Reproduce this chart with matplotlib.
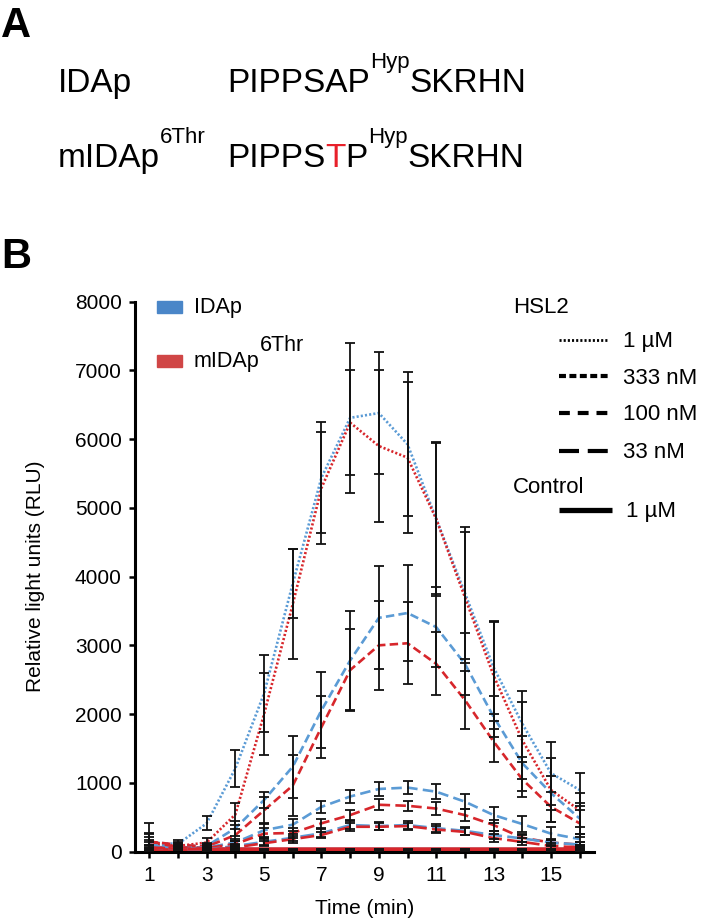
import matplotlib
matplotlib.use("Agg")
import matplotlib.pyplot as plt
from matplotlib.lines import Line2D
from matplotlib.patches import Rectangle

plt.rcParams["font.family"] = ["Liberation Sans", "DejaVu Sans"]

# ---- data ----
time_min = list(range(1, 17))
x_tick_labels = [str(t) if t % 2 else "" for t in time_min]
y_ticks = [0, 1000, 2000, 3000, 4000, 5000, 6000, 7000, 8000]

# IDAp (blue)
ida_1um = [130, 110, 410, 1210, 2300, 3900, 5440, 6310, 6380, 5925, 4840, 3760, 2680, 1860, 1140, 895]
ida_1um_sd = [280, 60, 100, 270, 560, 500, 810, 1090, 890, 1050, 1120, 960, 680, 480, 460, 240]
ida_333 = [100, 80, 80, 340, 750, 1235, 2055, 2780, 3400, 3470, 3265, 2730, 1960, 1285, 850, 480]
ida_333_sd = [70, 40, 40, 110, 120, 450, 550, 720, 750, 700, 580, 450, 300, 400, 250, 220]
ida_100 = [80, 60, 60, 130, 310, 390, 650, 800, 910, 930, 870, 725, 530, 400, 260, 180]
ida_100_sd = [60, 30, 30, 50, 100, 90, 90, 90, 100, 100, 110, 110, 120, 120, 90, 80]
ida_33 = [60, 40, 30, 80, 140, 200, 265, 385, 370, 385, 340, 300, 240, 190, 130, 100]
ida_33_sd = [40, 20, 20, 30, 50, 50, 60, 60, 60, 60, 60, 60, 60, 50, 40, 40]
ida_ctrl = [50, 40, 30, 25, 20, 20, 20, 20, 20, 20, 20, 20, 20, 20, 20, 20]
ida_ctrl_sd = [20, 10, 10, 10, 10, 10, 10, 10, 10, 10, 10, 10, 10, 10, 10, 10]

# mIDAp 6Thr (red)
mida_1um = [110, 80, 130, 540, 2000, 3600, 5290, 6240, 5900, 5730, 4840, 3700, 2560, 1620, 895, 600]
mida_1um_sd = [150, 50, 60, 160, 600, 800, 810, 760, 1100, 1100, 1100, 950, 780, 560, 460, 250]
mida_333 = [143, 100, 70, 240, 600, 960, 1810, 2640, 3000, 3030, 2730, 2205, 1600, 1050, 650, 410]
mida_333_sd = [130, 40, 40, 90, 200, 440, 450, 600, 650, 600, 460, 420, 300, 250, 220, 200]
mida_100 = [150, 60, 50, 110, 260, 270, 410, 530, 680, 665, 625, 530, 385, 200, 130, 100]
mida_100_sd = [60, 30, 30, 40, 80, 70, 70, 70, 80, 70, 100, 90, 80, 60, 50, 40]
mida_33 = [60, 40, 30, 60, 120, 180, 240, 360, 360, 370, 320, 285, 195, 140, 80, 60]
mida_33_sd = [40, 20, 20, 30, 40, 50, 50, 60, 50, 50, 50, 50, 60, 50, 40, 30]
mida_ctrl = [40, 30, 25, 25, 25, 25, 25, 25, 25, 25, 25, 25, 25, 25, 25, 25]
mida_ctrl_sd = [15, 10, 10, 10, 10, 10, 10, 10, 10, 10, 10, 10, 10, 10, 10, 10]

conc_labels = ["1 \u00b5M", "333 nM", "100 nM", "33 nM"]

BLUE = "#5b9bd5"
RED = "#d7262b"
BLUE_PATCH = "#4a86c8"
RED_PATCH = "#d04646"

# line width / dash pattern in the plot and in the legend, per concentration
plot_styles = {
    "1 \u00b5M": (1.9, (0, (0.8, 0.8))),
    "333 nM": (1.9, (0, (3.2, 1.6))),
    "100 nM": (1.9, (0, (4.0, 2.0))),
    "33 nM": (1.9, (0, (5.2, 2.0))),
}
legend_styles = {
    "1 \u00b5M": (2.0, (0, (0.75, 0.75))),
    "333 nM": (3.0, (0, (1.67, 0.83))),
    "100 nM": (3.0, (0, (2.6, 1.9))),
    "33 nM": (3.0, (0, (4.8, 2.1))),
}

W, H = 703, 923
fig = plt.figure(figsize=(W / 100, H / 100), dpi=100)

ax = fig.add_axes([135 / W, 1 - 851.5 / H, (594 - 135) / W, (851.5 - 301.7) / H])

# control lines (thick, solid)
ax.plot(time_min, ida_ctrl, color=BLUE, lw=3.6, solid_capstyle="butt", zorder=2)
ax.plot(time_min, mida_ctrl, color=RED, lw=3.6, solid_capstyle="butt", zorder=2)

series = [
    (ida_1um, ida_1um_sd, BLUE, "1 \u00b5M"),
    (mida_1um, mida_1um_sd, RED, "1 \u00b5M"),
    (ida_333, ida_333_sd, BLUE, "333 nM"),
    (mida_333, mida_333_sd, RED, "333 nM"),
    (ida_100, ida_100_sd, BLUE, "100 nM"),
    (mida_100, mida_100_sd, RED, "100 nM"),
    (ida_33, ida_33_sd, BLUE, "33 nM"),
    (mida_33, mida_33_sd, RED, "33 nM"),
]
for vals, sd, col, conc in series:
    lw, ls = plot_styles[conc]
    ax.plot(time_min, vals, color=col, lw=lw, linestyle=ls, zorder=3)
    ax.errorbar(time_min, vals, yerr=sd, fmt="none", ecolor="#111111",
                elinewidth=1.3, capsize=3.3, capthick=1.3, zorder=4)

for vals, sd in [(ida_ctrl, ida_ctrl_sd), (mida_ctrl, mida_ctrl_sd)]:
    ax.errorbar(time_min, vals, yerr=sd, fmt="none", ecolor="#111111",
                elinewidth=1.3, capsize=3.3, capthick=1.3, zorder=4)

ax.set_xlim(0.5, 16.5)
ax.set_ylim(0, 8000)
ax.set_xticks(time_min)
ax.set_xticklabels(x_tick_labels)
ax.set_yticks(y_ticks)
ax.set_yticklabels([str(v) for v in y_ticks])
for side in ["top", "right"]:
    ax.spines[side].set_visible(False)
for side in ["left", "bottom"]:
    ax.spines[side].set_linewidth(2.2)
ax.tick_params(axis="both", direction="out", length=4.5, width=1.8, labelsize=15)
ax.tick_params(axis="y", pad=5)
ax.tick_params(axis="x", pad=6)
ax.patch.set_visible(False)
ax.set_xlabel("Time (min)", fontsize=15)
ax.set_ylabel("Relative light units (RLU)", fontsize=15)
ax.xaxis.set_label_coords(0.5, -0.086)
ax.yaxis.set_label_coords(-0.196, 0.5)

# ---- overlay in pixel coordinates for panel text and legends ----
ov = fig.add_axes([0, 0, 1, 1], zorder=5)
ov.set_xlim(0, W)
ov.set_ylim(H, 0)
ov.axis("off")
ov.patch.set_visible(False)


def seq_text(x, y, parts, size, sup_size):
    # parts: (text, colour, superscript?)
    base = ov.text(x, y, parts[0][0], color=parts[0][1], fontsize=size,
                   va="baseline", ha="left")
    prev = base
    for s, c, sup in parts[1:]:
        if sup:
            t = ov.annotate(s, xy=(1, 1), xycoords=prev, fontsize=sup_size,
                            color=c, va="baseline", ha="left")
        else:
            t = ov.annotate(s, xy=(1, 0), xycoords=(prev, base), fontsize=size,
                            color=c, va="bottom", ha="left")
            base = t
        prev = t


ov.text(1, 37, "A", fontsize=30, fontweight="bold", va="baseline", ha="left")
ov.text(1, 268, "B", fontsize=30, fontweight="bold", va="baseline", ha="left")

seq_text(58, 92, [("IDAp", "black", False)], 24, 16)
seq_text(227, 92, [("PIPPSAP", "black", False), ("Hyp", "black", True),
                   ("SKRHN", "black", False)], 24, 16)
seq_text(58, 167, [("mIDAp", "black", False), ("6Thr", "black", True)], 24, 16)
seq_text(227, 167, [("PIPPS", "black", False), ("T", "#e8202a", False),
                    ("P", "black", False), ("Hyp", "black", True),
                    ("SKRHN", "black", False)], 24, 16)

# peptide legend (colour patches)
ov.add_patch(Rectangle((157, 301), 25, 12, color=BLUE_PATCH))
ov.add_patch(Rectangle((157, 355), 25, 12, color=RED_PATCH))
seq_text(194, 313, [("IDAp", "black", False)], 15.5, 15.5)
seq_text(194, 367, [("mIDAp", "black", False), ("6Thr", "black", True)], 15.5, 15.5)

# concentration legend (line styles)
ov.text(513, 313, "HSL2", fontsize=16, va="baseline", ha="left")
row_y = [340, 376, 413, 451]
for yy, conc in zip(row_y, conc_labels):
    lw, ls = legend_styles[conc]
    ov.add_line(Line2D([559, 608], [yy, yy], color="black", lw=lw, linestyle=ls))
    ov.text(623, yy + 7.5, conc, fontsize=16, va="baseline", ha="left")
ov.text(513, 493, "Control", fontsize=16, va="baseline", ha="left")
ov.add_line(Line2D([559, 612], [510, 510], color="black", lw=3.8, solid_capstyle="butt"))
ov.text(626, 517.5, conc_labels[0], fontsize=16, va="baseline", ha="left")

fig.savefig("out.png", dpi=100)
